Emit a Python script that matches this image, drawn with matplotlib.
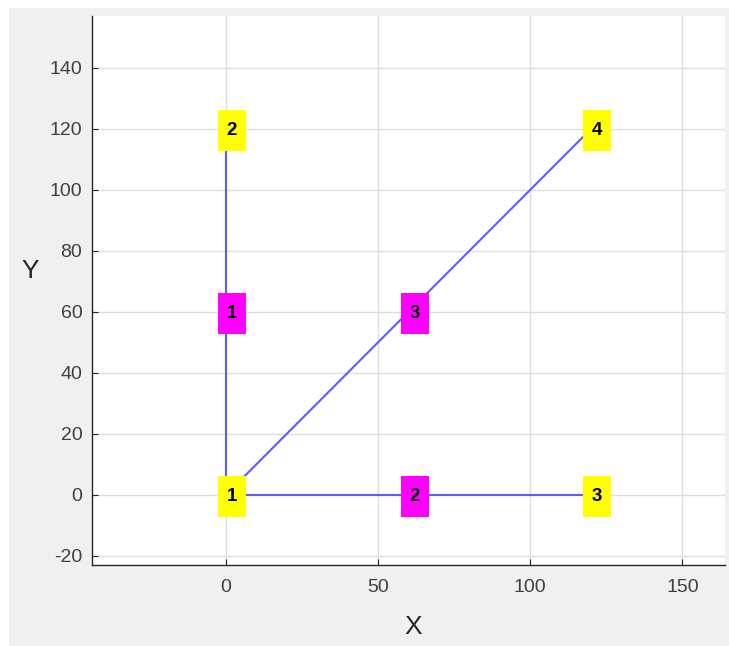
import matplotlib.pyplot as plt
from matplotlib.patches import Rectangle
from matplotlib.path import Path

# truss geometry
node_x = [0, 0, 120, 120]
node_y = [0, 120, 0, 120]
elem_start = [1, 1, 1]
elem_end = [2, 3, 4]
xticks = [0, 50, 100, 150]
yticks = [-20, 0, 20, 40, 60, 80, 100, 120, 140]

plt.rcParams['font.family'] = ['Liberation Sans', 'DejaVu Sans']
plt.rcParams['axes.unicode_minus'] = False


# label box: wider padding vertically than horizontally, like matlab text backgrounds
def tag_box(x0, y0, width, height, mutation_size):
    px = 0.47 * mutation_size
    py = 0.64 * mutation_size
    x0, y0 = x0 - px, y0 - py
    x1, y1 = x0 + width + 2 * px, y0 + height + 2 * py
    return Path([(x0, y0), (x1, y0), (x1, y1), (x0, y1), (x0, y0)],
                [Path.MOVETO, Path.LINETO, Path.LINETO, Path.LINETO, Path.CLOSEPOLY])


fig = plt.figure(figsize=(7.29, 6.46), dpi=100, facecolor='white')
fig.add_artist(Rectangle((9 / 729, 0), 1, 1 - 8 / 646, transform=fig.transFigure,
                         facecolor='#f0f0f0', edgecolor='none', zorder=-10))
ax = fig.add_axes([92 / 729, 81 / 646, 633 / 729, 549 / 646])
ax.set_facecolor('white')

# elements
for e, (a, b) in enumerate(zip(elem_start, elem_end)):
    xs = [node_x[a - 1], node_x[b - 1]]
    ys = [node_y[a - 1], node_y[b - 1]]
    ax.plot(xs, ys, color='#5c5cff', lw=1.5, zorder=2)
    mx, my = sum(xs) / 2, sum(ys) / 2
    ax.text(mx + 2, my - 0.4, str(e + 1), ha='center', va='center', fontsize=13.5,
            fontweight='bold', color='black', zorder=3,
            bbox=dict(boxstyle=tag_box, facecolor='#ff00ff', edgecolor='none'))

# nodes
for i, (x, y) in enumerate(zip(node_x, node_y)):
    ax.text(x + 2, y - 0.4, str(i + 1), ha='center', va='center', fontsize=13.5,
            fontweight='bold', color='black', zorder=3,
            bbox=dict(boxstyle=tag_box, facecolor='#ffff00', edgecolor='none'))

ax.set_xlim(-44, 164)
ax.set_ylim(-23, 157)
ax.set_xticks(xticks)
ax.set_yticks(yticks)
ax.grid(True, color='#dedede', lw=1)
ax.set_axisbelow(True)
for s in ['top', 'right']:
    ax.spines[s].set_visible(False)
for s in ['left', 'bottom']:
    ax.spines[s].set_color('#262626')
    ax.spines[s].set_linewidth(1)
ax.tick_params(direction='in', length=4, color='#262626', labelcolor='#404040',
               labelsize=14)
ax.tick_params(axis='y', pad=7)
ax.tick_params(axis='x', pad=10)
ax.set_xlabel('X', fontsize=19, color='#262626', va='center')
ax.set_ylabel('Y', fontsize=19, color='#262626', rotation=0, va='center', ha='center')
ax.xaxis.set_label_coords(0.507, -0.113)
ax.yaxis.set_label_coords(-0.098, 0.536)

fig.savefig('out.png', dpi=100)
